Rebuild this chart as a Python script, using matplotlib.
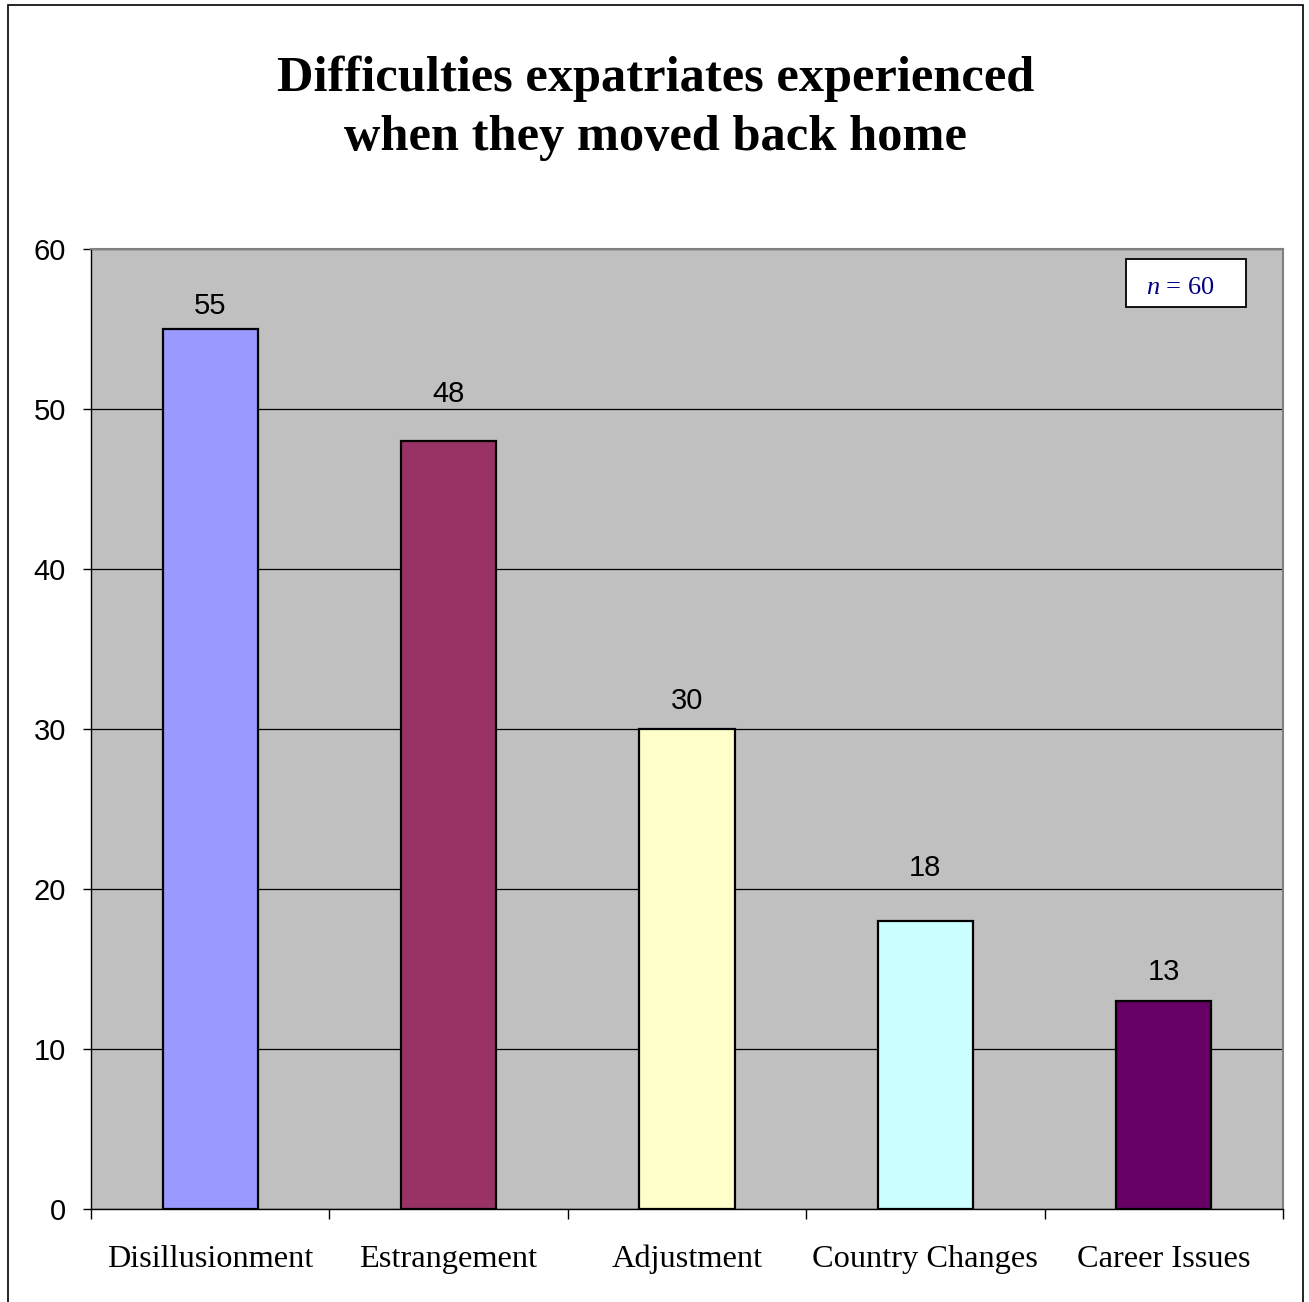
import numpy as np
import matplotlib
matplotlib.use("Agg")
import matplotlib.pyplot as plt
from matplotlib.patches import Rectangle

# Survey results
categories = ["Disillusionment", "Estrangement", "Adjustment", "Country Changes", "Career Issues"]
counts = [55, 48, 30, 18, 13]
bar_colors = ["#9999FF", "#993366", "#FFFFCC", "#CCFFFF", "#660066"]
y_ticks = [0, 10, 20, 30, 40, 50, 60]
sample_size = 60

# value labels sit above the bars, lifted clear of the gridlines (points)
label_lift = [10.8, 28.1, 14.4, 32.4, 15.1]

serif = "Liberation Serif"
sans = "Liberation Sans"
plt.rcParams["mathtext.fontset"] = "custom"
plt.rcParams["mathtext.rm"] = serif
plt.rcParams["mathtext.it"] = serif + ":italic"

fig = plt.figure(figsize=(13.09, 13.02), dpi=100)
fig.patch.set_facecolor("white")

# outer chart frame (bottom edge falls outside the image)
fig.patches.append(Rectangle((8 / 1309, -0.01), (1303 - 8) / 1309, 1 - 5 / 1302 + 0.01,
                             transform=fig.transFigure, fill=False,
                             edgecolor="black", linewidth=1.2))

ax = fig.add_axes([91 / 1309, 1 - 1209 / 1302, (1283 - 91) / 1309, (1209 - 249) / 1302])
ax.set_facecolor("#C0C0C0")

x = np.arange(len(categories))
bars = ax.bar(x, counts, width=0.4, color=bar_colors, edgecolor="black", linewidth=1.6, zorder=3)

ax.set_xlim(-0.5, len(categories) - 0.5)
ax.set_ylim(0, 60)
ax.set_yticks(y_ticks)
ax.set_yticklabels([str(t) for t in y_ticks], fontfamily=sans, fontsize=21)
ax.yaxis.grid(True, color="black", linewidth=0.9, zorder=1)
ax.set_axisbelow(True)

# ticks between categories, labels centred under each bar
ax.set_xticks(np.arange(len(categories) + 1) - 0.5)
ax.set_xticklabels([])
ax.set_xticks(x, minor=True)
ax.set_xticklabels(categories, minor=True, fontfamily=serif, fontsize=23.3)
for lbl in ax.get_xticklabels(minor=True):
    lbl.set_verticalalignment("baseline")
ax.tick_params(axis="x", which="minor", length=0, pad=41.8)
ax.tick_params(axis="x", which="major", length=7, width=1, direction="out")
ax.tick_params(axis="y", length=6, width=1, direction="out", pad=12)

for side in ["top", "right"]:
    ax.spines[side].set_color("#808080")
    ax.spines[side].set_linewidth(1.5)
for side in ["left", "bottom"]:
    ax.spines[side].set_color("black")
    ax.spines[side].set_linewidth(1.0)

for xi, c, lift in zip(x, counts, label_lift):
    ax.annotate(str(c), (xi, c), xytext=(0, lift), textcoords="offset points",
                ha="center", va="baseline", fontfamily=sans, fontsize=21, zorder=4)

fig.text(0.501, 1 - 108 / 1302, "Difficulties expatriates experienced\nwhen they moved back home",
         ha="center", va="center", fontfamily=serif, fontweight="bold", fontsize=36.4,
         linespacing=1.38)

# sample size note
ax.add_patch(Rectangle((0.8683, 0.9396), 0.1007, 0.05, transform=ax.transAxes,
                       facecolor="white", edgecolor="black", linewidth=1.3, zorder=5))
ax.text(0.9136, 0.9598, r"$\it{n}$ = " + str(sample_size), transform=ax.transAxes,
        ha="center", va="center", fontfamily=serif, fontsize=19, color="#000080", zorder=6)

fig.savefig("out.png", dpi=100)
